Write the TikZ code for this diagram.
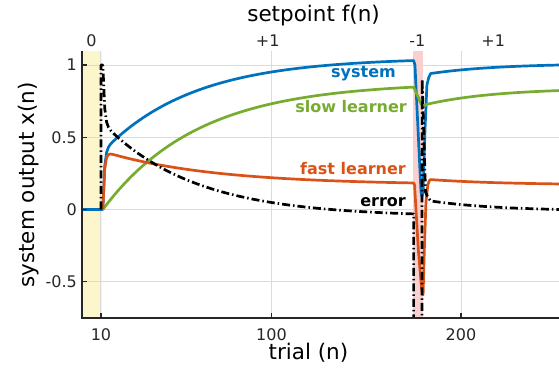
\documentclass[tikz,border=0pt]{standalone}
\usepackage{fontspec}
\setmainfont{DejaVu Sans}
\usepackage{tikz}

\definecolor{sysblue}{rgb}{0,0.447,0.741}
\definecolor{fastorange}{rgb}{0.85,0.325,0.098}
\definecolor{slowgreen}{rgb}{0.466,0.674,0.188}
\definecolor{axisgray}{rgb}{0.15,0.15,0.15}
\definecolor{gridgray}{rgb}{0.86,0.86,0.86}
\definecolor{bandyellow}{RGB}{251,246,204}
\definecolor{bandpink}{RGB}{249,208,208}

\tikzset{
	curve/.style={line width=2.7bp, line join=round},
	errorline/.style={curve, black, dash pattern=on 8bp off 3bp on 1.5bp off 3bp},
	gridline/.style={gridgray, line width=0.9bp},
	ticklabel/.style={font=\fontsize{16bp}{18bp}\selectfont, text=axisgray, inner sep=0pt},
	axislabel/.style={font=\fontsize{21.5bp}{24bp}\selectfont, inner sep=0pt, anchor=base},
	curvelabel/.style={font=\fontsize{16bp}{18bp}\selectfont\bfseries, inner sep=0pt, anchor=base east},
	declare function={
		fastA(\t)=(0.17+0.22*exp(-(\t-14)/58))*(1-exp(max(-(\t-11)/0.8,-10)));
		slowA(\t)=0.88*(1-exp(-(\t-11)/50));
		fastB(\t)=0.17+0.037*exp(-(\t-184)/40);
		slowB(\t)=0.728+0.112*(1-exp(-(\t-182)/37));
	}
}

\begin{document}
\begin{tikzpicture}[x=1.895bp, y=144.5bp]
\useasboundingbox (-43.27,-1.1246) rectangle (251.72,1.4498);

\fill[bandyellow] (0,-0.75) rectangle (10.3,1.1);
\fill[bandpink] (174.7,-0.75) rectangle (179.9,1.1);

\foreach \v in {-0.5,0,0.5,1}
	\draw[gridline] (0,\v) -- (251.72,\v);
\foreach \n in {10,100,200}
	\draw[gridline] (\n,-0.75) -- (\n,1.1);

\begin{scope}
\clip (0,-0.75) rectangle (251.72,1.1);
\draw[curve, sysblue] (0,0) -- (11,0) -- plot[domain=11:175, samples=165] (\x,{fastA(\x)+slowA(\x)})
	-- (175.7,1.0) -- (178.9,0.12) -- (179.4,0.09) -- (180,0.13) -- (181,0.55) -- (182,0.86) -- (183,0.915)
	-- plot[domain=184:251.72, samples=68] (\x,{fastB(\x)+slowB(\x)});
\draw[curve, slowgreen] (11,0) -- plot[domain=11:175, samples=165] (\x,{slowA(\x)})
	-- (176,0.82) -- (177,0.79) -- (178,0.76) -- (179,0.73) -- (180,0.715) -- (181,0.72)
	-- plot[domain=182:251.72, samples=70] (\x,{slowB(\x)});
\draw[curve, fastorange] (11,0) -- plot[domain=11:175, samples=165] (\x,{fastA(\x)})
	-- (175.5,0.17) -- (177.5,-0.28) -- (179.2,-0.55) -- (180,-0.59) -- (180.6,-0.3) -- (181.5,0.05) -- (182.5,0.17) -- (183.3,0.2)
	-- plot[domain=184:251.72, samples=68] (\x,{fastB(\x)});
\draw[errorline] (10,0) -- (10,1) -- (11,1) -- plot[domain=11:175, samples=165] (\x,{1-fastA(\x)-slowA(\x)})
	-- (175,-0.9) -- (179.4,-0.9) -- (179.5,0.9) -- (180.5,0.45) -- (181.3,0.12) -- (182.5,0.085)
	-- plot[domain=184:251.72, samples=68] (\x,{1-fastB(\x)-slowB(\x)});
\end{scope}

\draw[axisgray, line width=1.5bp] (0,1.1) -- (0,-0.75) -- (251.72,-0.75);
\foreach \v in {-0.5,0,0.5,1}
	\draw[axisgray, line width=1.2bp] (0,\v) -- ++(5bp,0);
\foreach \n in {10,100,200}
	\draw[axisgray, line width=1.2bp] (\n,-0.75) -- ++(0,5bp);

\node[ticklabel, anchor=east] (yA) at ([xshift=-5bp]0,1) {1};
\node[ticklabel, anchor=east] (yB) at ([xshift=-5bp]0,0.5) {0.5};
\node[ticklabel, anchor=east] (yC) at ([xshift=-5bp]0,0) {0};
\node[ticklabel, anchor=east] (yD) at ([xshift=-5bp]0,-0.5) {-0.5};

\node[ticklabel, anchor=north] (xA) at ([yshift=-11bp]10,-0.75) {10};
\node[ticklabel, anchor=north] (xB) at ([yshift=-11bp]100,-0.75) {100};
\node[ticklabel, anchor=north] (xC) at ([yshift=-11bp]200,-0.75) {200};

\node[ticklabel, anchor=base] (fA) at (5,1.1266) {0};
\node[ticklabel, anchor=base] (fB) at (98,1.1266) {+1};
\node[ticklabel, anchor=base] (fC) at (177,1.1266) {-1};
\node[ticklabel, anchor=base] (fD) at (217,1.1266) {+1};

\node[axislabel] (title) at (122.2,1.2976) {setpoint f(n)};
\node[axislabel] (xlab) at (119.5,-1.0415) {trial (n)};
\node[axislabel, rotate=90] (ylab) at (-25.3,0.17) {system output x(n)};

\node[curvelabel, text=sysblue] (sys) at (165.7,0.910) {system};
\node[curvelabel, text=slowgreen] (slow) at (171.5,0.668) {slow learner};
\node[curvelabel, text=fastorange] (fast) at (171,0.239) {fast learner};
\node[curvelabel, text=black] (err) at (171,0.024) {error};

\end{tikzpicture}
\end{document}
